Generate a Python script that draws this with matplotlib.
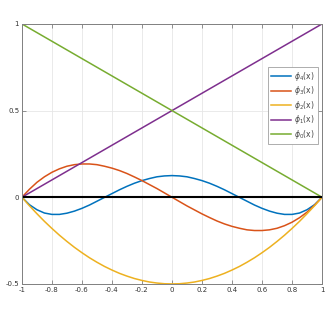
import matplotlib
matplotlib.use("Agg")
import matplotlib.pyplot as plt

# values
x = [-1, -0.95, -0.9, -0.85, -0.8, -0.75, -0.7, -0.65, -0.6, -0.55, -0.5,
     -0.45, -0.4, -0.35, -0.3, -0.25, -0.2, -0.15, -0.1, -0.05, 0,
     0.05, 0.1, 0.15, 0.2, 0.25, 0.3, 0.35, 0.4, 0.45, 0.5,
     0.55, 0.6, 0.65, 0.7, 0.75, 0.8, 0.85, 0.9, 0.95, 1]
phi4 = [0, -0.043, -0.072, -0.091, -0.099, -0.099, -0.092, -0.080, -0.064, -0.045, -0.023,
        -0.001, 0.021, 0.043, 0.063, 0.081, 0.096, 0.108, 0.118, 0.123, 0.125,
        0.123, 0.118, 0.108, 0.096, 0.081, 0.063, 0.043, 0.021, -0.001, -0.023,
        -0.045, -0.064, -0.080, -0.092, -0.099, -0.099, -0.091, -0.072, -0.043, 0]
phi3 = [0, 0.046, 0.086, 0.118, 0.144, 0.164, 0.179, 0.188, 0.192, 0.192, 0.188,
        0.179, 0.168, 0.154, 0.137, 0.117, 0.096, 0.073, 0.050, 0.025, 0,
        -0.025, -0.050, -0.073, -0.096, -0.117, -0.137, -0.154, -0.168, -0.179, -0.188,
        -0.192, -0.192, -0.188, -0.179, -0.164, -0.144, -0.118, -0.086, -0.046, 0]
phi2 = [0, -0.049, -0.095, -0.139, -0.18, -0.219, -0.255, -0.289, -0.32, -0.349, -0.375,
        -0.399, -0.42, -0.439, -0.455, -0.469, -0.48, -0.489, -0.495, -0.499, -0.5,
        -0.499, -0.495, -0.489, -0.48, -0.469, -0.455, -0.439, -0.42, -0.399, -0.375,
        -0.349, -0.32, -0.289, -0.255, -0.219, -0.18, -0.139, -0.095, -0.049, 0]
x_ends = [-1, 1]
phi1 = [0, 1]
phi0 = [1, 0]
zero_line = [0, 0]

labels = ["$\\phi_4$(x)", "$\\phi_3$(x)", "$\\phi_2$(x)", "$\\phi_1$(x)", "$\\phi_0$(x)"]
xticks = [-1, -0.8, -0.6, -0.4, -0.2, 0, 0.2, 0.4, 0.6, 0.8, 1]
xticklabels = ["-1", "-0.8", "-0.6", "-0.4", "-0.2", "0", "0.2", "0.4", "0.6", "0.8", "1"]
yticks = [-0.5, 0, 0.5, 1]
yticklabels = ["-0.5", "0", "0.5", "1"]

fig = plt.figure(figsize=(3.32, 3.19), dpi=100)
ax = fig.add_axes([0.066, 0.110, 0.904, 0.815])

lw = 1.1
ax.plot(x, phi4, color="#0072BD", lw=lw, label=labels[0])
ax.plot(x, phi3, color="#D95319", lw=lw, label=labels[1])
ax.plot(x, phi2, color="#EDB120", lw=lw, label=labels[2])
ax.plot(x_ends, phi1, color="#7E2F8E", lw=lw, label=labels[3])
ax.plot(x_ends, phi0, color="#77AC30", lw=lw, label=labels[4])
ax.plot(x_ends, zero_line, color="black", lw=1.5)

ax.set_xlim(-1, 1)
ax.set_ylim(-0.5, 1)
ax.set_xticks(xticks)
ax.set_xticklabels(xticklabels)
ax.set_yticks(yticks)
ax.set_yticklabels(yticklabels)
ax.grid(True, color="#e6e6e6", lw=0.6)
ax.set_axisbelow(True)
ax.tick_params(direction="in", top=True, right=True, length=3, width=0.6,
               colors="#808080", labelcolor="#333333", labelsize=5, pad=2)
for s in ax.spines.values():
    s.set_color("#808080")
    s.set_linewidth(0.7)

leg = ax.legend(loc="upper right", bbox_to_anchor=(0.985, 0.835), fontsize=5.5,
                fancybox=False, edgecolor="#a0a0a0", framealpha=1,
                handlelength=2.6, handletextpad=0.4, labelspacing=0.2,
                borderpad=0.4, borderaxespad=0)
leg.get_frame().set_linewidth(0.6)
for t in leg.get_texts():
    t.set_color("#444444")

fig.savefig("out.png", dpi=100)
